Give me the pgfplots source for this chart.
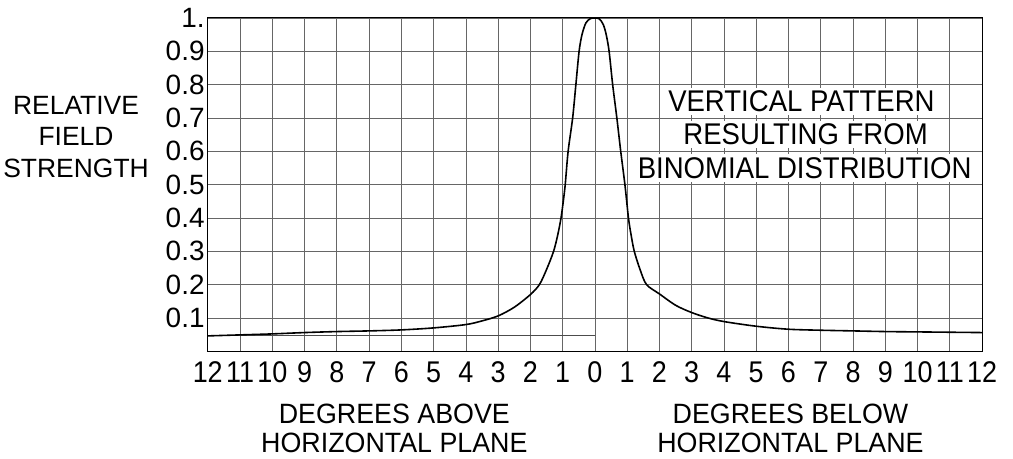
\documentclass[border=0pt]{standalone}
\usepackage{fontspec}
\setmainfont{Liberation Sans}
\newfontfamily\condfont{Liberation Sans}[FakeStretch=0.92]
\newfontfamily\tickfont{Liberation Sans}[FakeStretch=0.9]
\newfontfamily\narrowfont{Liberation Sans}[FakeStretch=0.96]
\usepackage{pgfplots}
\pgfplotsset{compat=1.18}

\newcommand\boxfont{\fontsize{30}{30}\selectfont\condfont}
\newcommand\xtickfont{\fontsize{30}{30}\selectfont\tickfont}
\newcommand\ytickfont{\fontsize{28}{28}\selectfont}
\newcommand\ylabfont{\fontsize{26.5}{31.5}\selectfont}
\newcommand\xlabfont{\fontsize{28}{29}\selectfont\narrowfont}
\tikzset{boxtext/.style={fill=white, inner xsep=3pt, inner ysep=3pt, font=\boxfont}}

\begin{document}
\begin{tikzpicture}
\begin{axis}[
  scale only axis,
  width=776pt, height=334pt,
  xmin=-12, xmax=12, ymin=0, ymax=1,
  xtick={-12,...,12},
  xticklabels={12,11,10,9,8,7,6,5,4,3,2,1,0,1,2,3,4,5,6,7,8,9,10,11,12},
  ytick={0.1,0.2,0.3,0.4,0.5,0.6,0.7,0.8,0.9,1},
  yticklabels={0.1,0.2,0.3,0.4,0.5,0.6,0.7,0.8,0.9,1.},
  major tick length=0pt,
  grid=major,
  grid style={black!60, line width=0.7pt},
  axis line style={black, line width=1pt},
  /pgf/number format/assume math mode=true,
  xticklabel style={anchor=center, yshift=-21pt, font=\xtickfont},
  yticklabel style={anchor=east, inner sep=0pt, xshift=-3pt, font=\ytickfont},
]
\addplot[black!70, line width=0.8pt] coordinates {(-12,0.048) (0,0.048)};
\addplot[black, line width=2pt] coordinates {(-12,-0.004) (-8.2,-0.004)};
% relative field strength vs. degrees (negative = above horizontal plane)
\addplot[black, line width=1.6pt, smooth, tension=0.5] table {
x y
-12 0.046
-11 0.049
-10 0.052
-9 0.056
-8 0.059
-7 0.061
-6 0.064
-5 0.070
-4 0.080
-3.5 0.091
-3 0.106
-2.5 0.132
-2 0.170
-1.72 0.200
-1.5 0.245
-1.28 0.300
-1.15 0.350
-1.05 0.400
-0.98 0.450
-0.92 0.500
-0.83 0.600
-0.69 0.700
-0.59 0.800
-0.49 0.900
-0.40 0.950
-0.28 0.985
-0.14 0.998
0 1.0
0.14 0.997
0.26 0.980
0.35 0.950
0.44 0.900
0.55 0.800
0.68 0.700
0.80 0.600
0.93 0.500
1.04 0.400
1.12 0.350
1.22 0.300
1.40 0.245
1.60 0.200
2.0 0.172
2.5 0.138
3.0 0.116
3.5 0.100
4 0.089
5 0.075
6 0.066
7 0.063
8 0.061
9 0.059
10 0.058
11 0.057
12 0.056
};

\node[boxtext] at (axis cs:6.4,0.75) {VERTICAL PATTERN};
\node[boxtext] at (axis cs:6.53,0.65) {RESULTING FROM};
\node[boxtext] at (axis cs:6.5,0.55) {BINOMIAL DISTRIBUTION};
\end{axis}

\node[align=center, font=\ylabfont] at (-132pt,215pt)
  {RELATIVE\\FIELD\\STRENGTH};
\node[align=center, font=\xlabfont] at (187pt,-77pt)
  {DEGREES ABOVE\\HORIZONTAL PLANE};
\node[align=center, font=\xlabfont] at (584pt,-77pt)
  {DEGREES BELOW\\HORIZONTAL PLANE};

\path (-206pt,-108pt) rectangle (807pt,352pt);
\end{tikzpicture}
\end{document}
